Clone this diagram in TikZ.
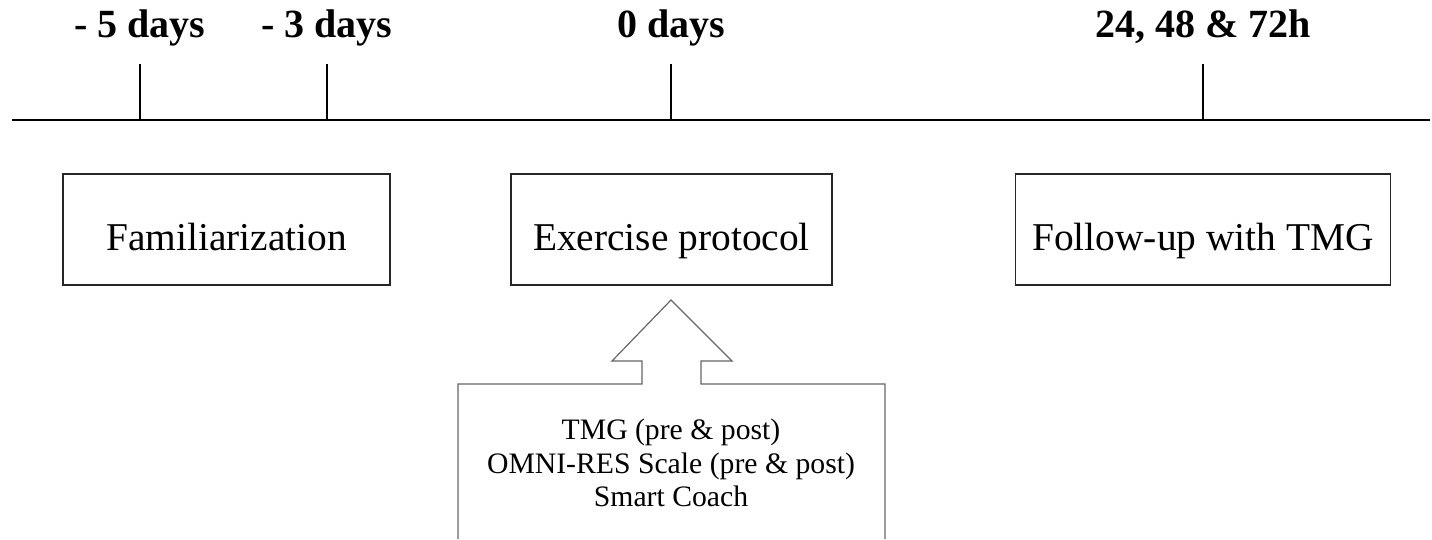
\documentclass[tikz,border=0pt]{standalone}
\usepackage{fontspec}
\setmainfont{Liberation Serif}
\begin{document}
\begin{tikzpicture}[x=1pt,y=-1pt,
  day/.style={anchor=base,font=\fontsize{40}{42}\selectfont\bfseries},
  box/.style={draw=black!85,line width=1.3pt,minimum height=111pt,text height=41pt,text depth=0pt,
    font=\fontsize{39.4}{44}\selectfont}]
\useasboundingbox(0,0)rectangle(1432,539);
%time line
\draw[line width=1.6pt](12,120)--(1430,120);
\foreach \x/\t/\n in {140/- 5 days/m5,327/- 3 days/m3,671/0 days/d0,1203/{24, 48 \& 72h}/hh}{
  \coordinate(\n) at (\x,120);
  \draw[line width=1.3pt](\n)--++(0,-56);
  \node[day](l\n) at (\x,37){\t};
}
%boxes
\node[box,minimum width=327pt](fam) at (226.5,229.5){Familiarization};
\node[box,minimum width=321pt](exe) at (671.5,229.5){Exercise protocol};
\node[box,minimum width=375pt](fol) at (1203,229.5){Follow-up with TMG};
%arrow box
\draw[line width=1.2pt,black!60](458,539)--(458,384)--(642,384)--(642,361)--(612,361)--(671,300)
  --(732,361)--(701,361)--(701,384)--(885,384)--(885,539);
\node[align=center,font=\fontsize{29.7}{33.5}\selectfont](meas) at (671,463)
  {TMG (pre \& post)\\OMNI-RES Scale (pre \& post)\\Smart Coach};
\end{tikzpicture}
\end{document}
